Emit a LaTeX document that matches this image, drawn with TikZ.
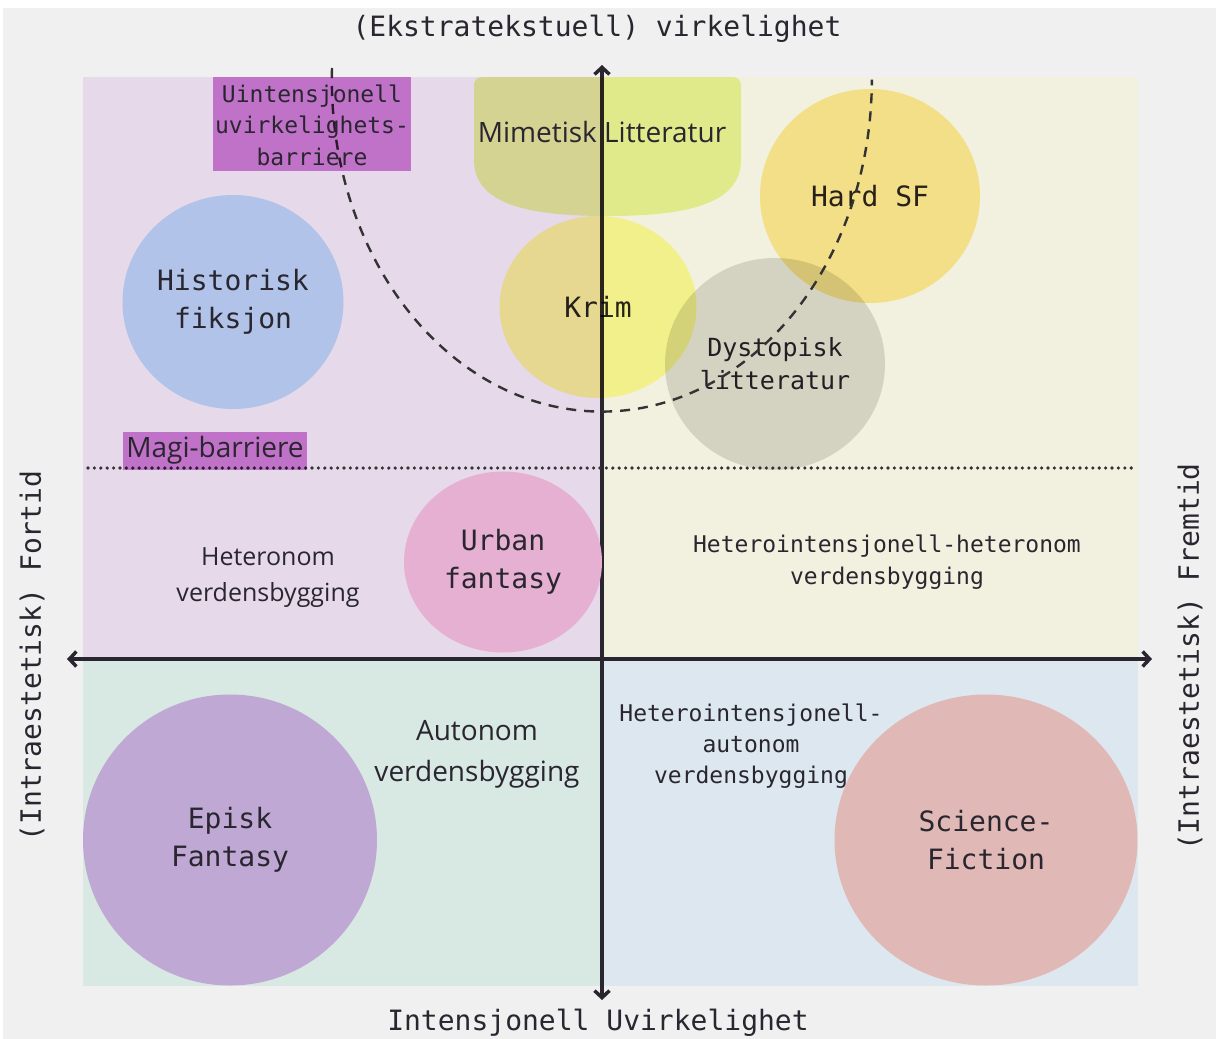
\documentclass[tikz,border=0pt]{standalone}
\usepackage{fontspec}
\setmainfont{DejaVu Sans Mono}
\newfontfamily\opensans{Open Sans}
\usepackage{xcolor}
\usetikzlibrary{arrows.meta}
\usetikzlibrary{shapes.geometric}
\definecolor{ramme}{HTML}{F0F0F0}
\definecolor{lilla}{HTML}{E6D9EA}
\definecolor{krem}{HTML}{F2F1DF}
\definecolor{mint}{HTML}{D8E8E3}
\definecolor{lyseblaa}{HTML}{DDE7F0}
\definecolor{mimetfarge}{HTML}{EDF8A0}
\definecolor{krimfarge}{HTML}{FFFE9E}
\definecolor{hardfarge}{HTML}{FFEC9B}
\definecolor{dystfarge}{HTML}{E0E0DE}
\definecolor{histfarge}{HTML}{B1C3E9}
\definecolor{urbanfarge}{HTML}{E6B0D3}
\definecolor{episkfarge}{HTML}{C0A8D4}
\definecolor{scififarge}{HTML}{E0B9B6}
\definecolor{lappfarge}{HTML}{D586DA}
\definecolor{tekst}{HTML}{2A2630}
\definecolor{strek}{HTML}{333333}

\begin{document}
\begin{tikzpicture}[x=1pt,y=-1pt,
    axis/.style={line width=3.5pt,draw=tekst,
      {Straight Barb[length=7pt,width=15pt]}-{Straight Barb[length=7pt,width=15pt]}},
    blob/.style={ellipse,inner sep=0pt,align=center,text=tekst,
      font=\fontsize{28}{38}\selectfont},
    lapp/.style={fill=lappfarge,inner sep=0pt,align=center,text=tekst},
    merke/.style={align=center,text=tekst}]
        \useasboundingbox (0,0) rectangle (1216,1039);
        \fill[white] (0,0) rectangle (1216,1039);
        \fill[ramme] (3,8) rectangle (1216,1039);
        \fill[lilla] (83,77) rectangle (602,660);
        \fill[krem] (602,77) rectangle (1138,660);
        \fill[mint] (83,660) rectangle (602,986);
        \fill[lyseblaa] (602,660) rectangle (1138,986);
        \coordinate (vest) at (67,659);
        \coordinate (ost) at (1152,659);
        \coordinate (nord) at (602,65);
        \coordinate (sor) at (602,1000);
        \draw[axis] (vest) -- (ost);
        \draw[axis] (nord) -- (sor);
        \node[blob,fill=histfarge,minimum width=221,minimum height=214] (historisk) at (233,302) {Historisk\\fiksjon};
        \node[blob,fill=urbanfarge,minimum width=198,minimum height=181] (urban) at (503,562) {Urban\\fantasy};
        \node[blob,fill=episkfarge,minimum width=294,minimum height=291] (episk) at (230,840) {Episk\\Fantasy};
        \node[blob,fill=scififarge,minimum width=303,minimum height=291] (scifi) at (986,840) {Science-\\Fiction};
        \begin{scope}[blend mode=multiply]
          \fill[mimetfarge] (474,160) [rounded corners=8pt]-- (474,77) -- (741,77) [sharp corners]-- (741,160)
            .. controls (741,205) and (684,216) .. (607,216)
            .. controls (530,216) and (474,205) .. (474,160) -- cycle;
          \node[blob,fill=krimfarge,minimum width=197,minimum height=182] (krim) at (598,307) {Krim};
          \node[blob,fill=hardfarge,minimum width=220,minimum height=214] (hardsf) at (870,196) {Hard SF};
          \node[blob,fill=dystfarge,minimum width=220,minimum height=212,font=\fontsize{25}{33}\selectfont] (dystopisk) at (775,364) {Dystopisk\\litteratur};
        \end{scope}
        \node[merke,font=\opensans\fontsize{28}{34}\selectfont] (mimetisk) at (602,132) {Mimetisk Litteratur};
        \draw[strek,line width=2.4pt,dash pattern=on 10pt off 8pt] (332,68) arc[start angle=182,end angle=0,x radius=270,y radius=332];
        \draw[strek,line width=3.6pt,line cap=round,dash pattern=on 0pt off 6.4pt] (88,468) -- (1135,468);
        \begin{scope}[blend mode=multiply]
          \node[lapp,minimum width=198,minimum height=94] (uvirk) at (312,124) {};
          \node[lapp,minimum width=184,minimum height=38] (magi) at (215,451) {};
        \end{scope}
        \node[merke,font=\fontsize{23}{31.5}\selectfont] (uvirktekst) at (312,125) {Uintensjonell\\uvirkelighets-\\barriere};
        \node[merke,font=\opensans\fontsize{28}{34}\selectfont] (magitekst) at (215,450) {Magi-barriere};
        \node[merke,font=\opensans\fontsize{25}{36}\selectfont] (heteronom) at (268,578) {Heteronom\\verdensbygging};
        \node[merke,font=\opensans\fontsize{28}{41}\selectfont] (autonom) at (477,754) {Autonom\\verdensbygging};
        \node[merke,font=\fontsize{23}{32}\selectfont] (hethet) at (887,562) {Heterointensjonell-heteronom\\verdensbygging};
        \node[merke,font=\fontsize{23}{31}\selectfont] (hetaut) at (751,746) {Heterointensjonell-\\autonom\\verdensbygging};
        \node[merke,font=\fontsize{28}{34}\selectfont] (virkelighet) at (597,29) {(Ekstratekstuell) virkelighet};
        \node[merke,font=\fontsize{28}{34}\selectfont] (uvirkelighet) at (598,1023) {Intensjonell Uvirkelighet};
        \node[merke,font=\fontsize{28}{34}\selectfont,rotate=90] (fortid) at (32,656) {(Intraestetisk) Fortid};
        \node[merke,font=\fontsize{28}{34}\selectfont,rotate=90] (fremtid) at (1190,657) {(Intraestetisk) Fremtid};
      \end{tikzpicture}
\end{document}
